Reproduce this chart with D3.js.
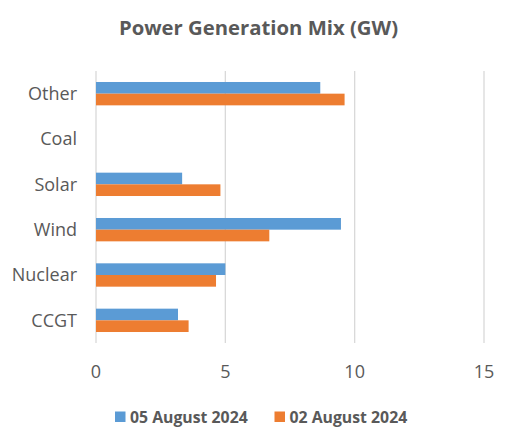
<!DOCTYPE html>
<html>
<head>
<meta charset="utf-8">
<script src="https://cdn.jsdelivr.net/npm/d3@7"></script>
<style>
  body { margin: 0; background: #fff; }
  text { font-family: 'Open Sans', sans-serif; fill: #595959; }
</style>
</head>
<body>
<div id="app"></div>
<script>
// categories top to bottom
var categories = ['Other', 'Coal', 'Solar', 'Wind', 'Nuclear', 'CCGT']
var seriesNames = ['05 August 2024', '02 August 2024']
var aug05 = [8.67, 0, 3.33, 9.47, 5.0, 3.17]
var aug02 = [9.61, 0, 4.81, 6.70, 4.64, 3.58]
var xTicks = [0, 5, 10, 15]
var colors = ['#5B9BD5', '#ED7D31']

var width = 515
var height = 444
var margin = { top: 71, right: 31, bottom: 101, left: 96 }

var svg = d3.select('#app')
	.append('svg')
	  .attr('width', width)
	  .attr('height', height)

var rows = categories.map(function(c, i) {
	return { name: c, values: [aug05[i], aug02[i]] }
})

var x = d3.scaleLinear()
	.domain([0, 15])
	.range([margin.left, width - margin.right])

var y = d3.scaleBand()
	.domain(categories)
	.range([margin.top, height - margin.bottom])
	.paddingInner(0.485)
	.paddingOuter(0.2425)

var ySub = d3.scaleBand()
	.domain([0, 1])
	.range([0, y.bandwidth()])

// title
svg.append('text')
	.attr('x', 258.5)
	.attr('y', 35)
	.attr('text-anchor', 'middle')
	.style('font-size', '20.3px')
	.style('font-weight', 'bold')
	.text('Power Generation Mix (GW)')

// gridlines
svg.append('g').selectAll('line')
	.data(xTicks)
  .enter().append('line')
	.attr('x1', function(d) { return x(d) })
	.attr('x2', function(d) { return x(d) })
	.attr('y1', margin.top)
	.attr('y2', height - margin.bottom)
	.attr('stroke', '#d9d9d9')
	.attr('stroke-width', 1.3)

// bars
var groups = svg.append('g').selectAll('.cat')
	.data(rows)
  .enter().append('g')
	.attr('class', 'cat')
	.attr('transform', function(d) { return 'translate(0,' + y(d.name) + ')' })

groups.selectAll('rect')
	.data(function(d) { return d.values })
  .enter().append('rect')
	.attr('x', x(0))
	.attr('y', function(d, i) { return ySub(i) })
	.attr('width', function(d) { return x(d) - x(0) })
	.attr('height', ySub.bandwidth())
	.attr('fill', function(d, i) { return colors[i] })

// category labels
svg.append('g').selectAll('text')
	.data(categories)
  .enter().append('text')
	.attr('x', 77)
	.attr('y', function(d) { return y(d) + y.bandwidth() / 2 })
	.attr('dy', '0.36em')
	.attr('text-anchor', 'end')
	.style('font-size', '18px')
	.text(function(d) { return d })

// x tick labels
svg.append('g').selectAll('text')
	.data(xTicks)
  .enter().append('text')
	.attr('x', function(d) { return x(d) })
	.attr('y', 377.5)
	.attr('text-anchor', 'middle')
	.style('font-size', '18px')
	.text(function(d) { return d })

// legend
var legendX = [115, 274.5]
var legend = svg.append('g').selectAll('g')
	.data(seriesNames)
  .enter().append('g')
	.attr('transform', function(d, i) { return 'translate(' + legendX[i] + ',411.5)' })

legend.append('rect')
	.attr('width', 10.5)
	.attr('height', 10.5)
	.attr('fill', function(d, i) { return colors[i] })

legend.append('text')
	.attr('x', 15)
	.attr('y', 11)
	.style('font-size', '15.8px')
	.style('font-weight', 'bold')
	.text(function(d) { return d })
</script>
</body>
</html>
